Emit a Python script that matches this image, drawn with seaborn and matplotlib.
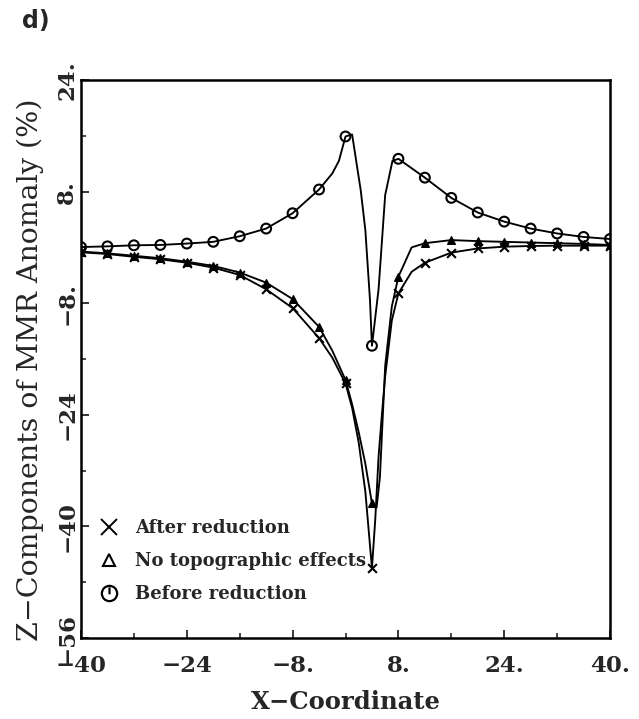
import numpy as np
import pandas as pd
import matplotlib
matplotlib.use("Agg")
import matplotlib.pyplot as plt
import seaborn as sns
from matplotlib.lines import Line2D
from matplotlib.path import Path

# ---------------- data ----------------
x_markers = [-40, -36, -32, -28, -24, -20, -16, -12, -8, -4, 0,
             4, 8, 12, 16, 20, 24, 28, 32, 36, 40]

after_markers = [-0.7, -0.95, -1.35, -1.7, -2.2, -2.9, -3.95, -6.0, -8.7, -13.0, -19.5,
                 -46.0, -6.6, -2.2, -0.75, -0.15, 0.1, 0.2, 0.25, 0.25, 0.25]
notopo_markers = [-0.6, -0.85, -1.2, -1.55, -2.05, -2.65, -3.6, -5.05, -7.4, -11.4, -19.0,
                  -36.7, -4.2, 0.6, 1.05, 0.9, 0.8, 0.7, 0.6, 0.5, 0.35]
before_markers = [0.05, 0.15, 0.3, 0.35, 0.55, 0.8, 1.6, 2.7, 4.9, 8.3, 15.9,
                  -14.1, 12.7, 10.0, 7.1, 5.0, 3.7, 2.7, 2.0, 1.5, 1.2]

after_line_x = [-40, -36, -32, -28, -24, -20, -16, -12, -8, -4, -2, 0, 1, 2, 3, 4,
                4.5, 5, 5.5, 6, 7, 8, 10, 12, 16, 20, 24, 28, 32, 36, 40]
after_line_y = [-0.7, -0.95, -1.35, -1.7, -2.2, -2.9, -3.95, -6.0, -8.7, -13.0, -15.8, -19.5,
                -23.0, -28.0, -35.0, -46.0, -39.0, -30.0, -24.0, -18.5, -10.5, -6.6, -3.5,
                -2.2, -0.75, -0.15, 0.1, 0.2, 0.25, 0.25, 0.25]

notopo_line_x = [-40, -36, -32, -28, -24, -20, -16, -12, -8, -4, -2, 0, 1, 2, 3, 4,
                 4.7, 5.2, 5.6, 6, 7, 8, 10, 12, 16, 20, 24, 28, 32, 36, 40]
notopo_line_y = [-0.6, -0.85, -1.2, -1.55, -2.05, -2.65, -3.6, -5.05, -7.4, -11.4, -14.8, -19.0,
                 -22.5, -26.5, -31.0, -36.7, -37.3, -33.0, -25.0, -17.0, -8.5, -4.2, 0.0,
                 0.6, 1.05, 0.9, 0.8, 0.7, 0.6, 0.5, 0.35]

before_line_x = [-40, -36, -32, -28, -24, -20, -16, -12, -8, -4, -2, -1, 0, 1, 2.3, 3, 3.7, 4,
                 5, 6, 7.1, 8, 12, 16, 20, 24, 28, 32, 36, 40]
before_line_y = [0.05, 0.15, 0.3, 0.35, 0.55, 0.8, 1.6, 2.7, 4.9, 8.3, 10.6, 12.4, 15.9, 16.2,
                 8.2, 2.5, -7.5, -14.1, -6.0, 7.5, 12.4, 12.7, 10.0, 7.1, 5.0, 3.7, 2.7, 2.0,
                 1.5, 1.2]

x_ticks = [-40, -24, -8, 8, 24, 40]
x_tick_labels = ["\u221240", "\u221224", "\u22128.", "8.", "24.", "40."]
y_ticks = [-56, -40, -24, -8, 8, 24]
y_tick_labels = ["\u221256", "\u221240", "\u221224", "\u22128.", "8.", "24."]
legend_labels = ["After reduction", "No topographic effects", "Before reduction"]

# ---------------- figure ----------------
sns.set_style("white")
plt.rcParams["font.family"] = ["DejaVu Serif"]

fig = plt.figure(figsize=(6.39, 7.19), dpi=100)
ax = fig.add_axes([81 / 639, 81 / 719, 529 / 639, 558 / 719])

lw = 1.35
for lx, ly in [(after_line_x, after_line_y), (notopo_line_x, notopo_line_y),
               (before_line_x, before_line_y)]:
    sns.lineplot(x=lx, y=ly, ax=ax, color="black", linewidth=lw, sort=False,
                 estimator=None, legend=False)

sns.scatterplot(x=x_markers, y=after_markers, ax=ax, marker="x", s=40,
                color="black", linewidth=1.5, legend=False, zorder=3)
sns.scatterplot(x=x_markers, y=notopo_markers, ax=ax, marker="^", s=30,
                color="black", edgecolor="black", linewidth=1, legend=False, zorder=3)
sns.scatterplot(x=x_markers, y=before_markers, ax=ax, marker="o", s=50,
                facecolor="none", edgecolor="black", linewidth=1.5, legend=False, zorder=3)

ax.set_xlim(-40, 40)
ax.set_ylim(-56, 24)
ax.set_xticks(x_ticks)
ax.set_xticklabels(x_tick_labels, fontsize=16.5, fontweight="bold")
ax.set_yticks(y_ticks)
ax.set_yticklabels(y_tick_labels, fontsize=16.5, fontweight="bold", rotation=90, va="center")
ax.set_xticks([-32, -16, 0, 16, 32], minor=True)
ax.set_yticks([-48, -32, -16, 0, 16], minor=True)
ax.tick_params(axis="both", which="major", direction="in", length=6, width=1.3,
               top=False, right=False, bottom=True, left=True)
ax.tick_params(axis="both", which="minor", direction="in", length=3.5, width=1.2,
               top=False, right=False, bottom=True, left=True)
ax.tick_params(axis="x", which="major", pad=12)
ax.tick_params(axis="y", which="major", pad=2)
for sp in ax.spines.values():
    sp.set_linewidth(1.8)
    sp.set_color("black")

ax.set_xlabel("X\u2212Coordinate", fontsize=17.5, fontweight="bold")
ax.xaxis.set_label_coords(0.5, (638 - 690) / 558)
ax.set_ylabel("Z\u2212Components of MMR Anomaly (%)", fontsize=20.5)
ax.yaxis.set_label_coords((44 - 81) / 529, 0.48)

# legend with custom circle marker (circle with vertical bar)
circ = Path.unit_circle()
bar = Path([(0, -0.1), (0, 0.8)], [Path.MOVETO, Path.LINETO])
circ_bar = Path.make_compound_path(circ, bar)
handles = [
    Line2D([], [], linestyle="none", marker="x", markersize=12, markeredgewidth=1.4,
           color="black"),
    Line2D([], [], linestyle="none", marker="^", markersize=8, markerfacecolor="white",
           markeredgecolor="black", markeredgewidth=1.5),
    Line2D([], [], linestyle="none", marker=circ_bar, markersize=11, markerfacecolor="none",
           markeredgecolor="black", markeredgewidth=1.6),
]
leg = ax.legend(handles, legend_labels, loc="lower left", bbox_to_anchor=(0.022, 0.05),
                frameon=False, prop={"family": "DejaVu Serif", "weight": "bold", "size": 13},
                handlelength=1.0, handletextpad=0.95, labelspacing=0.82, borderaxespad=0)

fig.text(22 / 639, 1 - 21 / 719, "d)", fontsize=17, fontweight="bold",
         family="DejaVu Sans", ha="left", va="center")

fig.savefig("out.png", dpi=100)
